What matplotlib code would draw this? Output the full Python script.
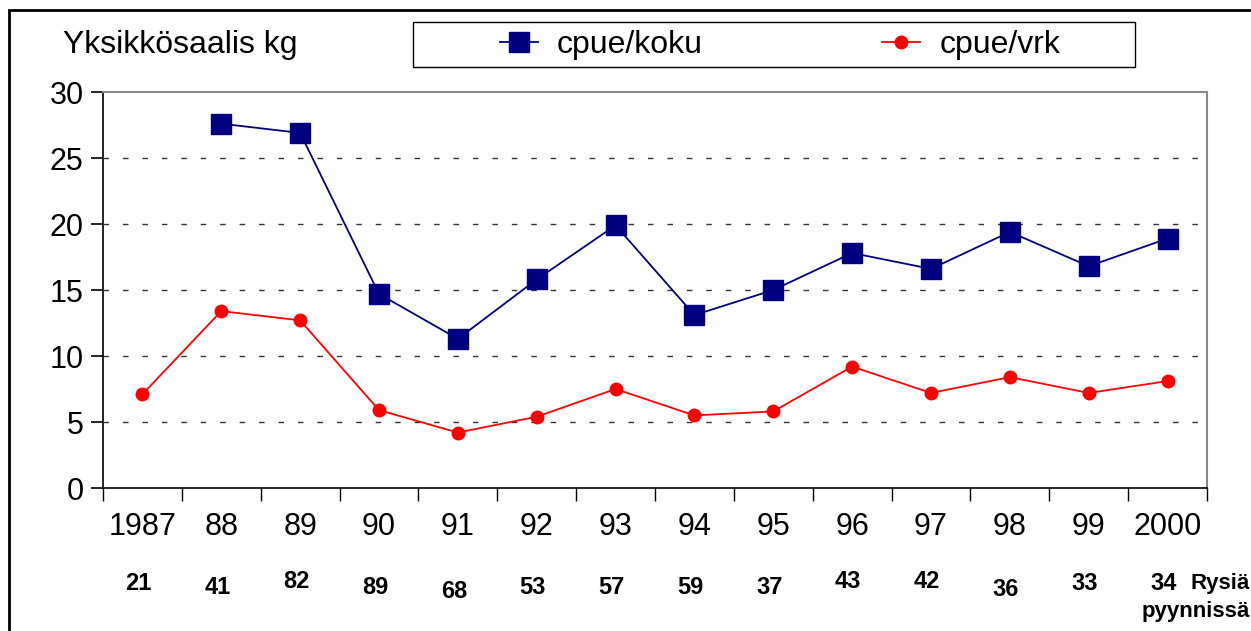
import matplotlib
matplotlib.use("Agg")
import matplotlib.pyplot as plt
from matplotlib.patches import Rectangle
from matplotlib.lines import Line2D
import numpy as np

plt.rcParams['font.family'] = ['Liberation Sans', 'DejaVu Sans']

years = ["1987", "88", "89", "90", "91", "92", "93", "94", "95", "96", "97", "98", "99", "2000"]
cpue_koku = [np.nan, 27.6, 26.9, 14.7, 11.3, 15.8, 19.9, 13.1, 15.0, 17.8, 16.6, 19.4, 16.8, 18.9]
cpue_vrk = [7.1, 13.4, 12.7, 5.9, 4.2, 5.4, 7.5, 5.5, 5.8, 9.2, 7.2, 8.4, 7.2, 8.1]
rysia = ["21", "41", "82", "89", "68", "53", "57", "59", "37", "43", "42", "36", "33", "34"]

W, H = 1251, 631
fig = plt.figure(figsize=(W / 100, H / 100), dpi=100)
ax = fig.add_axes([103 / W, 1 - 488 / H, (1207 - 103) / W, (488 - 92) / H])

x = np.arange(len(years))
l1, = ax.plot(x, cpue_koku, color='#000080', lw=1.3, marker='s', ms=14, mfc='#000080', mec='#000080')
l2, = ax.plot(x, cpue_vrk, color='#ff0000', lw=1.3, marker='o', ms=9, mfc='#ff0000', mec='#ff0000')

ax.set_xlim(-0.5, len(years) - 0.5)
ax.set_ylim(0, 30)
ax.set_yticks(range(0, 31, 5))
ax.set_yticklabels([str(v) for v in range(0, 31, 5)], fontsize=22)
ax.set_xticks(np.arange(-0.5, len(years), 1.0))
ax.set_xticklabels([])
ax.tick_params(axis='y', direction='out', length=9, width=1.2, pad=5)
ax.tick_params(axis='x', direction='out', length=9, width=1.0)
for v in range(5, 30, 5):
    ax.axhline(v, color='#333333', lw=1.0, ls=(0, (4, 10)), zorder=0)

for s in ['left', 'bottom']:
    ax.spines[s].set_color('black')
    ax.spines[s].set_linewidth(1.2)
for s in ['top', 'right']:
    ax.spines[s].set_color('#888888')
    ax.spines[s].set_linewidth(1.5)

trans = ax.get_xaxis_transform()
ylab = -(527 - 488) / (488 - 92)
for i, lab in enumerate(years):
    ax.text(i, ylab, lab, transform=trans, ha='center', va='center', fontsize=22)

offs = [583, 587, 582, 588, 592, 588, 588, 588, 587, 582, 581, 589, 583, 583]
for i, lab in enumerate(rysia):
    ax.text(i - 0.05, -(offs[i] - 488) / (488 - 92), lab, transform=trans, ha='center', va='center',
            fontsize=17, fontweight='bold')

fig.text(1250 / W, 1 - 583 / H, "Rysiä", ha='right', va='center', fontsize=16, fontweight='bold')
fig.text(1250 / W, 1 - 612 / H, "pyynnissä", ha='right', va='center', fontsize=16, fontweight='bold')

fig.text(63 / W, 1 - 45 / H, "Yksikkösaalis kg", ha='left', va='center', fontsize=23)

# outer frame
fig.patches.append(Rectangle((9 / W, -0.1), 1.2, 1.1 - 10 / H, transform=fig.transFigure,
                             fill=False, edgecolor='black', lw=2))
# legend frame
fig.patches.append(Rectangle((413 / W, 1 - 67 / H), (1135 - 413) / W, 45 / H, transform=fig.transFigure,
                             fill=False, edgecolor='black', lw=1.0))

handles = [Line2D([], [], color='#000080', lw=1.3, marker='s', ms=14),
           Line2D([], [], color='#ff0000', lw=1.3, marker='o', ms=9)]
leg = fig.legend(handles, ["cpue/koku", "cpue/vrk"], ncol=2, loc='center',
                 bbox_to_anchor=(780 / W, 1 - 45 / H),
                 frameon=False, fontsize=23, handlelength=1.2, handletextpad=0.6,
                 columnspacing=5.6, borderaxespad=0, borderpad=0)

fig.savefig("out.png", dpi=100)
